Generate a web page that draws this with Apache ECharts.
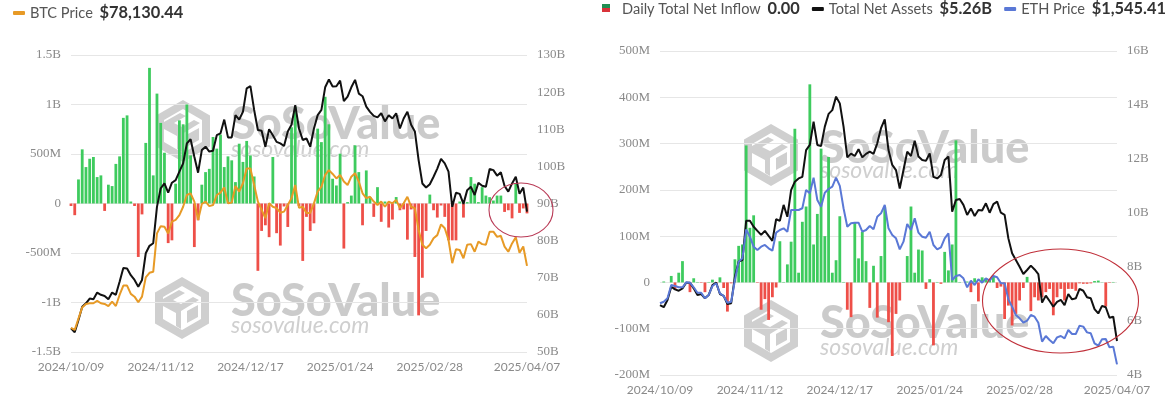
<!DOCTYPE html>
<html>
<head>
<meta charset="utf-8">
<title>ETF flows</title>
<script src="https://cdn.jsdelivr.net/npm/echarts@6/dist/echarts.min.js"></script>
<style>
html,body{margin:0;padding:0;background:#fff;}
#btcChart{position:absolute;left:0;top:0;width:587px;height:416px;}
#ethChart{position:absolute;left:587px;top:0;width:588px;height:416px;}
</style>
</head>
<body>
<div id="btcChart"></div>
<div id="ethChart"></div>
<script>
// trading days shared by both charts
var dates = [
  '2024/10/09','2024/10/10','2024/10/11','2024/10/14','2024/10/15','2024/10/16','2024/10/17','2024/10/18','2024/10/21','2024/10/22','2024/10/23','2024/10/24','2024/10/25','2024/10/28','2024/10/29','2024/10/30','2024/10/31',
  '2024/11/01','2024/11/04','2024/11/05','2024/11/06','2024/11/07','2024/11/08','2024/11/11','2024/11/12','2024/11/13','2024/11/14','2024/11/15','2024/11/18','2024/11/19','2024/11/20','2024/11/21','2024/11/22','2024/11/25','2024/11/26','2024/11/27','2024/11/29',
  '2024/12/02','2024/12/03','2024/12/04','2024/12/05','2024/12/06','2024/12/09','2024/12/10','2024/12/11','2024/12/12','2024/12/13','2024/12/16','2024/12/17','2024/12/18','2024/12/19','2024/12/20','2024/12/23','2024/12/24','2024/12/26','2024/12/27','2024/12/30','2024/12/31',
  '2025/01/02','2025/01/03','2025/01/06','2025/01/07','2025/01/08','2025/01/10','2025/01/13','2025/01/14','2025/01/15','2025/01/16','2025/01/17','2025/01/21','2025/01/22','2025/01/23','2025/01/24','2025/01/27','2025/01/28','2025/01/29','2025/01/30','2025/01/31',
  '2025/02/03','2025/02/04','2025/02/05','2025/02/06','2025/02/07','2025/02/10','2025/02/11','2025/02/12','2025/02/13','2025/02/14','2025/02/18','2025/02/19','2025/02/20','2025/02/21','2025/02/24','2025/02/25','2025/02/26','2025/02/27','2025/02/28',
  '2025/03/03','2025/03/04','2025/03/05','2025/03/06','2025/03/07','2025/03/10','2025/03/11','2025/03/12','2025/03/13','2025/03/14','2025/03/17','2025/03/18','2025/03/19','2025/03/20','2025/03/21','2025/03/24','2025/03/25','2025/03/26','2025/03/27','2025/03/28','2025/03/31',
  '2025/04/01','2025/04/02','2025/04/03','2025/04/04','2025/04/07'
];
var tickDates = ['2024/10/09','2024/11/12','2024/12/17','2025/01/24','2025/02/28','2025/04/07'];

// left chart, BTC: inflow in M, net assets in B, price in thousand $
var btcInflow = [-25,-118,243,547,368,452,470,267,284,-75,190,176,400,476,865,890,20,-25,-540,-110,612,1370,284,1110,814,513,-400,-372,200,840,800,1000,486,-440,-170,190,317,350,672,554,696,368,476,436,216,604,420,632,486,273,-680,-277,-220,-340,470,-300,-425,-30,-237,770,976,-25,-580,-135,-277,-200,756,620,1078,800,250,182,503,-455,14,80,588,317,-220,334,65,-135,165,-185,20,-243,-162,65,-68,-60,-365,-60,-540,-1130,-750,-277,90,-68,-142,-20,-135,-372,-372,-372,20,-142,14,267,200,14,165,80,64,30,80,80,-85,-68,-150,200,-95,-50,-100];
var btcAssets = [56.4,55.3,58.6,62.2,63.1,64.4,64.2,66,65.4,65.1,64.2,66,65.4,68.9,72.6,72.5,70.7,69.4,67.6,69.4,76.6,78.6,79.3,89.1,94.1,95.4,92.9,95.6,96.3,98.6,100.8,106.2,107.3,102.6,98.3,104.4,105.3,104,104.2,108.4,108.9,112.6,107.8,107.8,113.8,112.6,114.7,121,121.6,115.2,109.8,109.6,105.3,110,108.4,106.6,106.2,105.5,109.4,111.2,116.5,110.2,107.1,107.5,105.3,110.2,113.8,115.2,121.3,123.4,121.5,121.6,123.1,117.6,118.8,121.3,123.3,119.6,118.9,116.1,114.7,113.6,113.2,114.3,112.1,113.8,112.9,114.3,110.2,112.9,114.7,111.2,109.4,101.7,95.4,94.3,95.2,97.2,99.4,102,100.8,98.6,89.1,92.9,92.6,89.9,93.6,94.5,92.3,95.6,94.8,94.5,99.3,99,97.5,98.4,94.7,93.2,95.4,97.2,92.6,94.3,87.8];
var btcPrice = [62,61.4,64.7,67.9,68.9,69.1,69.1,69.8,69.1,68.9,68.3,69.6,68.3,71.5,74.2,74.2,71.8,71,69.4,71,76.6,77.9,78.2,89.3,91.4,91.2,89.3,92.7,93.2,94.6,97,100.4,100.9,98.5,93.2,97.8,98.5,97.2,97.5,100.4,101.1,102.6,98,98.2,103,101.4,103.8,108.1,108.1,103.3,98.5,96.1,93.7,98,97,96.6,95.3,95.6,97.5,99.5,103.3,96.7,97,95.2,95.2,98,101.4,102.8,106.2,107.6,106.5,105.2,106.2,104.3,103.3,105.7,106.7,104.3,100.9,99.5,99.9,98.5,97.5,98.5,97,98.5,98,99,96.6,98,99.9,97,96.6,90.3,86,85,86,87.9,88.8,91.9,90.8,87.4,80.7,84.7,84.5,82.1,86,86.2,84,86.9,86.2,86,89.8,89.8,88.3,88.6,85.5,84,86.4,88.2,83.7,85.5,79.9];

// right chart, ETH: inflow in M, net assets in B, price in $
var ethInflow = [0,2,0,14,-14,21,46,1,-21,9,1,-1,-21,1,6,-2,11,-12,-63,-2,50,79,82,296,118,145,-1,-59,-36,-81,-32,-11,89,1,39,88,332,21,131,164,428,82,148,289,100,271,21,48,143,1,-59,-75,129,52,109,46,-55,36,-76,57,164,-86,-159,-68,-39,1,57,164,21,71,69,-14,7,-136,1,-3,66,26,82,307,1,0,2,-21,9,-41,11,9,7,14,-12,-9,-79,-50,-93,-68,-39,-12,12,-62,-32,-39,-32,-21,-14,-71,-32,-14,-39,-14,-14,-18,-2,-3,-3,-2,3,4,0.5,-52,-1,1,0];
var ethAssets = [6.59,6.51,6.78,7.27,7.17,7.12,7.21,7.42,7.42,7.21,6.96,7,6.84,6.96,7.33,7.42,7,6.93,6.63,6.66,7.64,8.2,8.26,9.71,9.71,9.49,9.34,9.19,9.34,9.15,8.97,9.77,9.71,10.3,9.86,10.85,11.16,11.28,11.34,12.33,12.52,13.38,12.52,12.48,13.2,13.67,13.81,14.31,14.06,13.2,12.06,12.2,12.11,12.36,12.06,12.19,12.27,12.19,12.58,13.14,13.47,12.33,11.78,11.59,10.91,11.59,12.27,12.11,12.68,12.09,11.96,11.93,12.21,11.34,11.28,11.41,11.96,12.09,10.05,10.48,10.52,10.3,9.93,10.17,9.89,10.11,10.09,10.36,10.01,10.33,10.42,10.01,9.93,9.06,8.51,8.26,8.01,7.74,7.89,8.05,7.91,7.74,6.68,6.94,6.74,6.53,6.71,6.78,6.59,7,6.8,6.84,7.19,7.12,6.88,6.84,6.44,6.28,6.56,6.51,6.12,6.16,5.26];
var ethPrice = [2366,2387,2433,2612,2598,2581,2581,2648,2643,2581,2508,2508,2433,2478,2598,2635,2500,2464,2374,2387,2679,2925,2971,3360,3261,3127,3082,3127,3150,3105,3073,3315,3351,3374,3328,3620,3620,3620,3643,3889,3844,4054,3754,3664,3852,3902,3933,4054,3943,3643,3395,3441,3449,3449,3328,3351,3405,3360,3530,3575,3687,3373,3284,3239,3091,3194,3431,3351,3508,3315,3261,3248,3328,3149,3091,3118,3239,3306,2679,2733,2746,2701,2580,2670,2612,2688,2643,2701,2670,2733,2715,2634,2634,2419,2320,2208,2164,2105,2132,2208,2186,2105,1850,1926,1872,1828,1908,1926,1895,2007,1953,1953,2065,2052,1975,1962,1828,1796,1881,1886,1774,1783,1545];

var GREEN = '#3ecb5e', RED = '#ee4f48', GREY = '#8a8a8a', WATER = '#cfcfcf';

function moneyLabel(v) {
  if (v === 0) return '0';
  return Math.abs(v) >= 1000 ? v / 1000 + 'B' : v + 'M';
}

// SoSoValue mark, hexagon with the cube inside
function hexMark(cx, cy) {
  var poly = function (pts, fill) {
    return {type: 'polygon', x: cx, y: cy, z: -1, silent: true,
      shape: {points: pts}, style: {fill: fill}};
  };
  return [
    poly([[0,-31],[27,-15.5],[27,15.5],[0,31],[-27,15.5],[-27,-15.5]], WATER),
    poly([[0,-22],[19,-11],[19,11],[0,22],[-19,11],[-19,-11]], '#fff'),
    poly([[-19,-9],[-3,-18],[3,-15],[-9,-8],[-1,-4],[11,-11],[17,-8],[-1,3],[-1,21],[-6,18],[-6,5],[-19,-2]], WATER),
    poly([[5,3],[16,-3],[16,9],[5,15]], WATER)
  ];
}

function waterMark(hexX, hexY, textX, textY, subY) {
  return hexMark(hexX, hexY).concat([
    {type: 'text', left: textX, top: textY - 22, z: -1, silent: true,
      style: {text: 'SoSoValue', fill: 'rgba(190,190,190,0.8)', font: '900 45px Lato'}},
    {type: 'text', left: textX, top: subY - 14, z: -1, silent: true,
      style: {text: 'sosovalue.com', fill: 'rgba(195,195,195,0.8)', font: 'italic 400 23px Lato'}}
  ]);
}

function circleMark(cx, cy, rx, ry, color) {
  return {type: 'ellipse', z: 100, silent: true,
    shape: {cx: cx, cy: cy, rx: rx, ry: ry},
    style: {fill: 'none', stroke: color, lineWidth: 1.1}};
}

// the two-colour key of the bars
function barKey(x, y) {
  return [
    {type: 'rect', x: x, y: y, z: 10, shape: {width: 8, height: 4}, style: {fill: '#1f8f52'}},
    {type: 'rect', x: x, y: y + 4, z: 10, shape: {width: 8, height: 4}, style: {fill: '#d9333a'}}
  ];
}

function buildOption(cfg) {
  var valueLabel = {
    color: GREY, fontFamily: 'Liberation Serif', fontSize: 13, padding: [0, 0, 3, 0]
  };
  return {
    animation: false,
    legend: {
      left: cfg.legendLeft, top: cfg.legendTop,
      selectedMode: false, itemGap: cfg.legendGap,
      itemWidth: 12, itemHeight: 4, padding: 0,
      data: cfg.legendData,
      formatter: function (name) { return '{n|' + name + '}  {v|' + cfg.legendValues[name] + '}'; },
      textStyle: {
        rich: {
          n: {fontFamily: 'Lato', fontSize: 14.6, color: '#555'},
          v: {fontFamily: 'Lato', fontSize: 16.4, fontWeight: 700, color: '#333'}
        }
      }
    },
    grid: cfg.grid,
    xAxis: {
      type: 'category', data: dates, boundaryGap: false,
      axisLine: {show: false}, axisTick: {show: false},
      axisLabel: {
        color: GREY, fontFamily: 'Lato', fontSize: 12, margin: 9,
        interval: function (i, v) { return tickDates.indexOf(v) >= 0; }
      }
    },
    yAxis: [
      {type: 'value', min: cfg.flowMin, max: cfg.flowMax, interval: cfg.flowStep,
        axisLabel: Object.assign({margin: 10, formatter: moneyLabel}, valueLabel),
        splitLine: {lineStyle: {color: '#e6e6e6'}}},
      {type: 'value', min: cfg.assetMin, max: cfg.assetMax, interval: cfg.assetStep, position: 'right',
        axisLabel: Object.assign({margin: 10, formatter: '{value}B'}, valueLabel),
        splitLine: {show: false}},
      {type: 'value', min: cfg.priceMin, max: cfg.priceMax, show: false, splitLine: {show: false}}
    ],
    series: [
      {name: 'Daily Total Net Inflow', type: 'bar', data: cfg.inflow, barWidth: 2.8, clip: false,
        itemStyle: {color: function (p) { return p.value >= 0 ? GREEN : RED; }}},
      {name: 'Total Net Assets', type: 'line', yAxisIndex: 1, data: cfg.assets, showSymbol: false, z: 4,
        lineStyle: {color: '#111', width: 2}, itemStyle: {color: '#111'}},
      {name: cfg.priceName, type: 'line', yAxisIndex: 2, data: cfg.price, showSymbol: false, z: cfg.priceZ,
        lineStyle: {color: cfg.priceColor, width: 2}, itemStyle: {color: cfg.priceColor}}
    ],
    graphic: {elements: cfg.graphics}
  };
}

var btcChart = echarts.init(document.getElementById('btcChart'));
btcChart.setOption(buildOption({
  grid: {left: 71, width: 456, top: 55, height: 297},
  legendLeft: 13, legendTop: 5, legendGap: 10,
  legendData: [{name: 'BTC Price', icon: 'roundRect'}],
  legendValues: {'BTC Price': '$78,130.44'},
  flowMin: -1500, flowMax: 1500, flowStep: 500,
  assetMin: 50, assetMax: 130, assetStep: 10,
  priceMin: 55, priceMax: 140.9,
  inflow: btcInflow, assets: btcAssets, price: btcPrice,
  priceName: 'BTC Price', priceColor: '#e79a26', priceZ: 5,
  graphics: waterMark(183, 131, 231, 124, 152)
    .concat(waterMark(182, 308, 231, 301, 328))
    .concat([circleMark(521, 210, 32, 27, '#b93a56')])
}));

var ethChart = echarts.init(document.getElementById('ethChart'));
ethChart.setOption(buildOption({
  grid: {left: 73, width: 457, top: 51, height: 324},
  legendLeft: 18, legendTop: 1, legendGap: 12,
  legendData: [
    {name: 'Daily Total Net Inflow', icon: 'none'},
    {name: 'Total Net Assets', icon: 'roundRect'},
    {name: 'ETH Price', icon: 'roundRect'}
  ],
  legendValues: {'Daily Total Net Inflow': '0.00', 'Total Net Assets': '$5.26B', 'ETH Price': '$1,545.41'},
  flowMin: -200, flowMax: 500, flowStep: 100,
  assetMin: 4, assetMax: 16, assetStep: 2,
  priceMin: 1402, priceMax: 5757,
  inflow: ethInflow, assets: ethAssets, price: ethPrice,
  priceName: 'ETH Price', priceColor: '#5a78d6', priceZ: 5,
  graphics: barKey(15, 4)
    .concat(waterMark(184, 155, 233, 148, 173))
    .concat(waterMark(184, 331, 233, 323, 350))
    .concat([circleMark(473.5, 301, 78, 52, '#c0303a')])
}));
</script>
</body>
</html>
